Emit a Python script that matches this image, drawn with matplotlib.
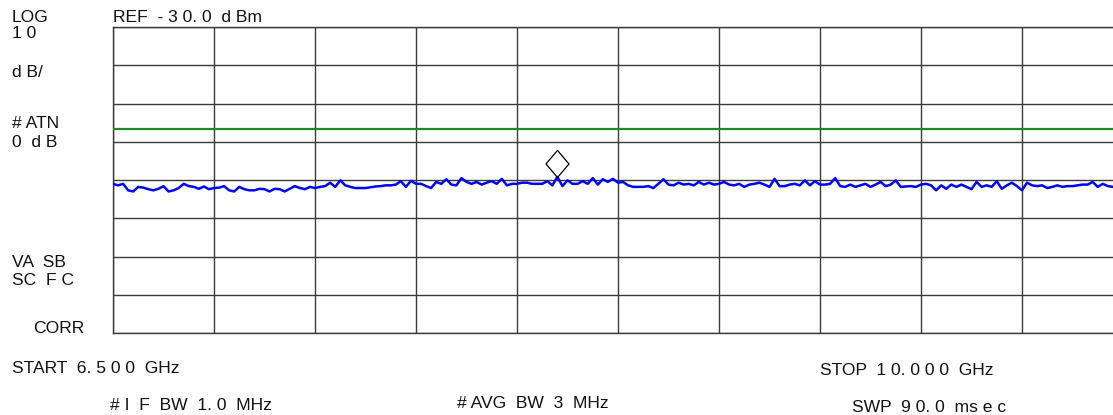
import numpy as np
import matplotlib
matplotlib.use("Agg")
import matplotlib.pyplot as plt
from matplotlib.path import Path

# settings
start_ghz = 6.5
stop_ghz = 10.0
ref_dbm = -30.0
db_per_div = 10.0
threshold_dbm = -56.7

# trace, dBm (201 points across the sweep)
trace = [
    -71.0, -71.4, -71.0, -72.7, -73.0, -71.8, -72.0, -72.4, -72.7, -72.3,
    -71.6, -73.0, -72.7, -72.1, -71.0, -71.6, -71.8, -72.3, -71.7, -72.4,
    -72.1, -72.0, -71.6, -72.7, -73.0, -71.8, -72.4, -72.7, -72.7, -72.3,
    -72.4, -73.0, -72.3, -72.4, -73.0, -72.3, -71.6, -72.1, -72.4, -71.8,
    -72.1, -71.8, -71.6, -70.7, -71.8, -70.1, -71.4, -71.8, -72.1, -72.1,
    -72.1, -71.9, -71.7, -71.6, -71.4, -71.4, -71.2, -70.3, -71.8, -70.2,
    -71.0, -71.0, -71.6, -72.1, -70.5, -71.0, -69.8, -71.2, -71.4, -69.5,
    -70.5, -71.0, -70.5, -71.2, -70.7, -70.3, -71.0, -69.7, -71.4, -71.0,
    -71.0, -70.7, -70.7, -71.0, -71.0, -71.0, -70.3, -71.4, -69.2, -71.6,
    -70.1, -71.0, -71.0, -70.3, -71.0, -69.5, -71.2, -69.8, -70.5, -69.7,
    -70.7, -70.5, -71.4, -71.8, -71.8, -71.8, -71.6, -72.1, -71.0, -69.8,
    -71.2, -71.4, -70.7, -71.2, -71.0, -71.4, -70.5, -71.2, -70.7, -71.2,
    -71.0, -70.5, -71.2, -71.4, -71.0, -71.8, -71.2, -71.0, -70.7, -71.2,
    -71.8, -69.7, -71.6, -71.6, -71.2, -71.0, -71.4, -70.1, -71.4, -70.3,
    -71.2, -71.2, -71.0, -69.5, -71.6, -71.8, -71.2, -71.8, -71.4, -71.0,
    -71.8, -71.2, -70.5, -71.6, -71.2, -70.1, -71.8, -71.7, -71.6, -71.8,
    -71.2, -71.0, -71.4, -72.7, -71.4, -72.3, -71.2, -71.8, -71.2, -71.8,
    -72.4, -70.5, -71.8, -71.4, -71.8, -70.3, -72.3, -71.4, -70.7, -71.6,
    -72.7, -70.7, -71.4, -71.6, -71.4, -72.1, -71.8, -71.4, -71.8, -71.6,
    -71.6, -71.4, -71.2, -71.2, -70.5, -71.8, -71.0, -71.6, -71.8, -71.4,
    -71.2,
]
marker_idx = 88

freqs = np.linspace(start_ghz, stop_ghz, len(trace))

# annotation texts: (text, x px, baseline y px)
labels = [
    ("LOG", 12, 22),
    ("1 0", 12, 38),
    ("d B/", 12, 77),
    ("# ATN", 12, 128),
    ("0  d B", 12, 147),
    ("REF  - 3 0. 0  d Bm", 113, 22),
    ("VA  SB", 12, 267),
    ("SC  F C", 12, 285),
    ("CORR", 33, 333),
    ("START  6. 5 0 0  GHz", 12, 373),
    ("# I  F  BW  1. 0  MHz", 110, 410),
    ("# AVG  BW  3  MHz", 457, 408),
    ("STOP  1 0. 0 0 0  GHz", 820, 375),
    ("SWP  9 0. 0  ms e c", 852, 412),
]

W, H = 1113, 415
fig = plt.figure(figsize=(W / 100, H / 100), dpi=100)
# graticule runs 10 divisions, right edge falls just off the picture
ax = fig.add_axes([113 / W, 1 - 333 / H, 1010 / W, 306 / H])

ax.set_xlim(start_ghz, stop_ghz)
ax.set_ylim(ref_dbm - 8 * db_per_div, ref_dbm)
ax.set_xticks(np.linspace(start_ghz, stop_ghz, 11))
ax.set_yticks(np.arange(ref_dbm - 8 * db_per_div, ref_dbm + 1, db_per_div))
ax.grid(True, color="#3a3a3a", lw=1.0)
ax.tick_params(length=0, labelbottom=False, labelleft=False)
for s in ax.spines.values():
    s.set_color("#3a3a3a")
    s.set_linewidth(1.0)

ax.axhline(threshold_dbm, color="#1f8a1f", lw=1.6, zorder=3)
ax.plot(freqs, trace, color="#0000ff", lw=1.8, zorder=4)

# open diamond sitting on the trace at the marker point
diamond = Path([(0, 0), (0.85, 1), (0, 2), (-0.85, 1), (0, 0)],
               [Path.MOVETO, Path.LINETO, Path.LINETO, Path.LINETO, Path.CLOSEPOLY])
ax.plot(freqs[marker_idx], trace[marker_idx], marker=diamond, ms=39,
        mfc="none", mec="black", mew=0.9, zorder=5)

for txt, x, y in labels:
    fig.text(x / W, 1 - y / H, txt, fontsize=12.6, family="Liberation Sans",
             va="baseline", ha="left", color="#111111")

fig.savefig("out.png", dpi=100)
